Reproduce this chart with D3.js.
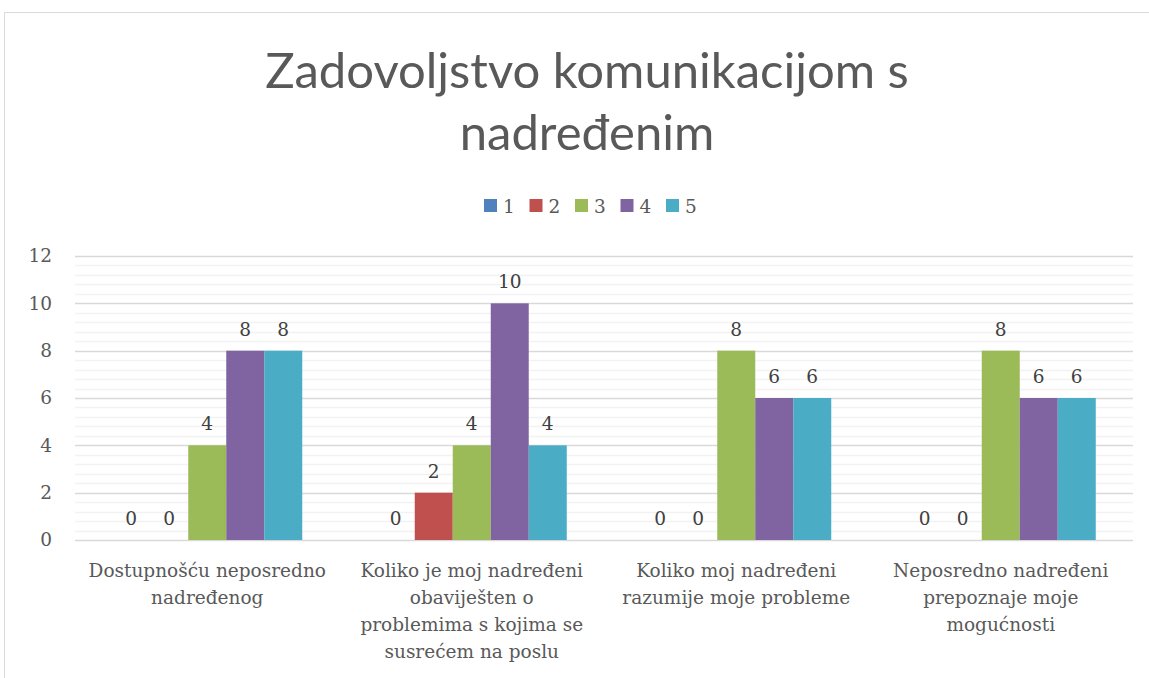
<!DOCTYPE html>
<html>
<head>
<meta charset="utf-8">
<script src="https://cdn.jsdelivr.net/npm/d3@7"></script>
<style>
  body { margin: 0; background: #fff; }
  svg text { fill: #595959; }
</style>
</head>
<body>
<div id="chart"></div>
<script>
// data
const categories = [
  ["Dostupnošću neposredno", "nadređenog"],
  ["Koliko je moj nadređeni", "obaviješten o", "problemima s kojima se", "susrećem na poslu"],
  ["Koliko moj nadređeni", "razumije moje probleme"],
  ["Neposredno nadređeni", "prepoznaje moje", "mogućnosti"]
];
const seriesNames = ["1", "2", "3", "4", "5"];
const s1 = [0, 0, 0, 0];
const s2 = [0, 2, 0, 0];
const s3 = [4, 4, 8, 8];
const s4 = [8, 10, 6, 6];
const s5 = [8, 4, 6, 6];
const yTicks = [0, 2, 4, 6, 8, 10, 12];
const colors = ["#4f81bd", "#c0504d", "#9bbb59", "#8064a2", "#4bacc6"];

const allSeries = [s1, s2, s3, s4, s5];

const W = 1149, H = 678;
const margin = {top: 256, right: 16, bottom: 138, left: 75};
const width = W - margin.left - margin.right,
      height = H - margin.top - margin.bottom;

const serif = "'DejaVu Serif', serif";
const fs = "18.5px";

const svg = d3.select("#chart").append("svg")
  .attr("width", W).attr("height", H);

// outer chart border
svg.append("rect")
  .attr("x", 4.5).attr("y", 12.5)
  .attr("width", W + 10).attr("height", H + 10)
  .attr("fill", "none").attr("stroke", "#d9d9d9");

// title
svg.append("text")
  .attr("x", 587).attr("y", 88)
  .attr("text-anchor", "middle")
  .style("font-family", "Lato, 'Open Sans', sans-serif")
  .style("font-size", "49px")
  .text("Zadovoljstvo komunikacijom s");
svg.append("text")
  .attr("x", 587).attr("y", 150)
  .attr("text-anchor", "middle")
  .style("font-family", "Lato, 'Open Sans', sans-serif")
  .style("font-size", "49px")
  .text("nadređenim");

// legend
const legend = svg.append("g").attr("transform", "translate(484,206)");
seriesNames.forEach((n, i) => {
  const lg = legend.append("g").attr("transform", "translate(" + (i * 45.5) + ",0)");
  lg.append("rect").attr("x", 0).attr("y", -7).attr("width", 13).attr("height", 13)
    .attr("fill", colors[i]);
  lg.append("text").attr("x", 19).attr("y", 7)
    .style("font-family", serif)
    .style("font-size", fs)
    .text(n);
});

const g = svg.append("g")
  .attr("transform", "translate(" + margin.left + "," + margin.top + ")");

const x0 = d3.scaleBand()
  .domain(d3.range(categories.length))
  .range([0, width]);

const x1 = d3.scaleBand()
  .domain(d3.range(seriesNames.length))
  .range([0, 190])
  .padding(0);

const y = d3.scaleLinear().domain([0, 12]).range([height, 0]);

// minor gridlines
g.append("g").selectAll("line")
  .data(d3.range(0, 12.01, 0.4).filter(v => Math.abs(v / 2 - Math.round(v / 2)) > 0.01))
  .enter().append("line")
  .attr("x1", 0).attr("x2", width)
  .attr("y1", d => Math.round(y(d)) + 0.5).attr("y2", d => Math.round(y(d)) + 0.5)
  .attr("stroke", "#f2f2f2").attr("stroke-width", 1.5);

// major gridlines
g.append("g").selectAll("line")
  .data(yTicks)
  .enter().append("line")
  .attr("x1", 0).attr("x2", width)
  .attr("y1", d => Math.round(y(d)) + 0.5).attr("y2", d => Math.round(y(d)) + 0.5)
  .attr("stroke", "#d9d9d9").attr("stroke-width", 1.5);

// y axis labels
const yAxis = g.append("g")
  .call(d3.axisLeft(y).tickValues(yTicks).tickSize(0).tickPadding(23));
yAxis.select(".domain").remove();
yAxis.selectAll("text")
  .attr("fill", "#595959")
  .style("font-family", serif)
  .style("font-size", fs);

// bars
const groups = g.selectAll(".grp")
  .data(categories.map((c, i) => i))
  .enter().append("g")
  .attr("class", "grp")
  .attr("transform", i => "translate(" + (x0(i) + (x0.bandwidth() - 190) / 2) + ",0)");

groups.selectAll("rect")
  .data(i => allSeries.map((s, k) => ({k: k, v: s[i]})))
  .enter().append("rect")
  .attr("x", d => x1(d.k))
  .attr("width", x1.bandwidth())
  .attr("y", d => y(d.v))
  .attr("height", d => height - y(d.v))
  .attr("fill", d => colors[d.k]);

// data labels
groups.selectAll(".lbl")
  .data(i => allSeries.map((s, k) => ({k: k, v: s[i]})))
  .enter().append("text")
  .attr("class", "lbl")
  .attr("x", d => x1(d.k) + x1.bandwidth() / 2)
  .attr("y", d => y(d.v) - 15)
  .attr("text-anchor", "middle")
  .style("fill", "#404040")
  .style("font-family", serif)
  .style("font-size", fs)
  .text(d => d.v);

// category labels
const xl = g.append("g").attr("transform", "translate(0," + height + ")");
categories.forEach((lines, i) => {
  const t = xl.append("text")
    .attr("x", x0(i) + x0.bandwidth() / 2)
    .attr("y", 37)
    .attr("text-anchor", "middle")
    .style("font-family", serif)
    .style("font-size", fs);
  lines.forEach((ln, j) => {
    t.append("tspan").attr("x", x0(i) + x0.bandwidth() / 2)
      .attr("dy", j === 0 ? 0 : 27).text(ln);
  });
});
</script>
</body>
</html>
